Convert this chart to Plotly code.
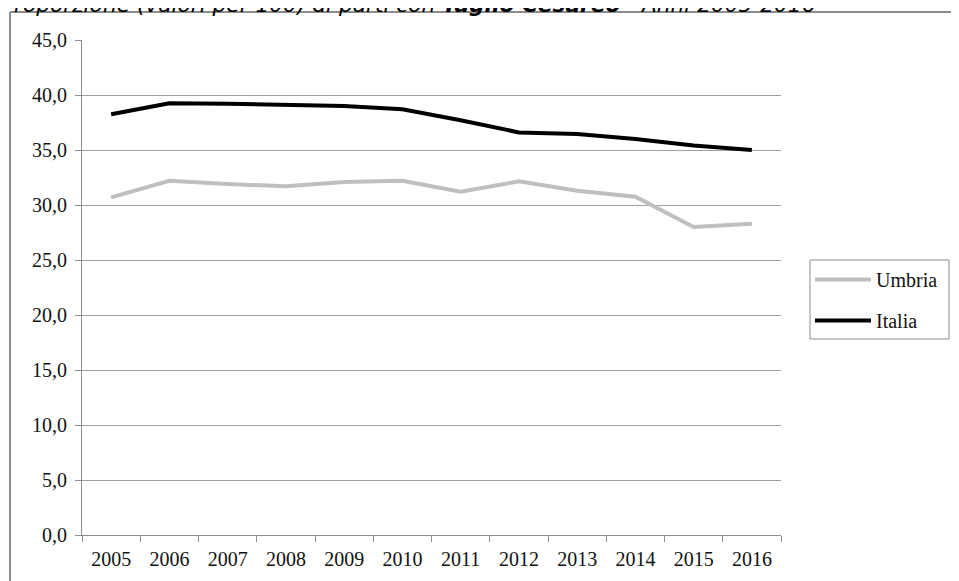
import plotly.graph_objects as go

years = ["2005", "2006", "2007", "2008", "2009", "2010", "2011", "2012", "2013", "2014", "2015", "2016"]
umbria = [30.7, 32.2, 31.9, 31.7, 32.1, 32.2, 31.2, 32.15, 31.3, 30.75, 28.0, 28.3]
italia = [38.25, 39.24, 39.2, 39.1, 39.0, 38.7, 37.7, 36.6, 36.45, 36.0, 35.4, 35.0]

# page body adds an 8px offset; target positions below are screen pixels
OFF = 8
W, H = 959, 581
PL, PR, PT, PB = 82, 781, 40, 535  # plot area on screen
L = PL - OFF
T = PT - OFF
pw, ph = PR - PL, PB - PT
R = W - L - pw
B = H - T - ph

def px(x):
    return (x - PL) / pw

def py(y):
    return (PB - y) / ph

fig = go.Figure()
fig.add_trace(go.Scatter(x=years, y=umbria, name="Umbria", mode="lines",
                         line=dict(color="#bfbfbf", width=4), legendgroup="u"))
fig.add_trace(go.Scatter(x=years, y=italia, name="Italia", mode="lines",
                         line=dict(color="#000000", width=4), legendgroup="i"))

serif = "Liberation Serif, Times New Roman, serif"
grey = "#8c8c8c"

fig.update_layout(
    width=W, height=H,
    margin=dict(l=L, r=R, t=T, b=B, autoexpand=False),
    paper_bgcolor="white", plot_bgcolor="white",
    separators=",.",
    showlegend=True,
    legend=dict(x=px(810), y=py(260), xanchor="left", yanchor="top",
                bgcolor="rgba(0,0,0,0)", borderwidth=0,
                itemwidth=56,
                font=dict(family=serif, size=20, color="#111"),
                tracegroupgap=12, traceorder="grouped"),
    xaxis=dict(type="category", range=[-0.5, 11.5], showgrid=False, showline=True,
               linecolor=grey, linewidth=1, ticks="outside", tickson="boundaries", ticklen=6,
               tickcolor=grey, ticklabelstandoff=6,
               tickfont=dict(family=serif, size=20, color="#111")),
    yaxis=dict(range=[0, 45], dtick=5, tickformat=".1f", showgrid=True, gridcolor="#a0a0a0",
               gridwidth=1, zeroline=False, showline=True, linecolor=grey,
               ticks="outside", ticklen=6, tickcolor=grey,
               ticklabelstandoff=4,
               tickfont=dict(family=serif, size=20, color="#111")),
    annotations=[dict(
        text="Proporzione (valori per 100) di parti con <b>Taglio Cesareo</b> - Anni 2005-2016",
        xref="paper", yref="paper", x=px(-1), y=py(5), xanchor="left", yanchor="middle",
        showarrow=False,
        font=dict(family="DejaVu Sans, Verdana, sans-serif", size=21.7, color="#000", style="italic"))],
    shapes=[
        dict(type="line", xref="paper", yref="paper", x0=px(10), x1=px(10), y0=py(12), y1=py(600),
             line=dict(color=grey, width=2)),
        dict(type="line", xref="paper", yref="paper", x0=px(10), x1=px(990), y0=py(12), y1=py(12),
             line=dict(color=grey, width=2)),
        dict(type="rect", xref="paper", yref="paper", x0=px(810), x1=px(949), y0=py(260), y1=py(339),
             line=dict(color=grey, width=1), fillcolor="rgba(0,0,0,0)"),
    ],
)

fig.write_html("out.html")
